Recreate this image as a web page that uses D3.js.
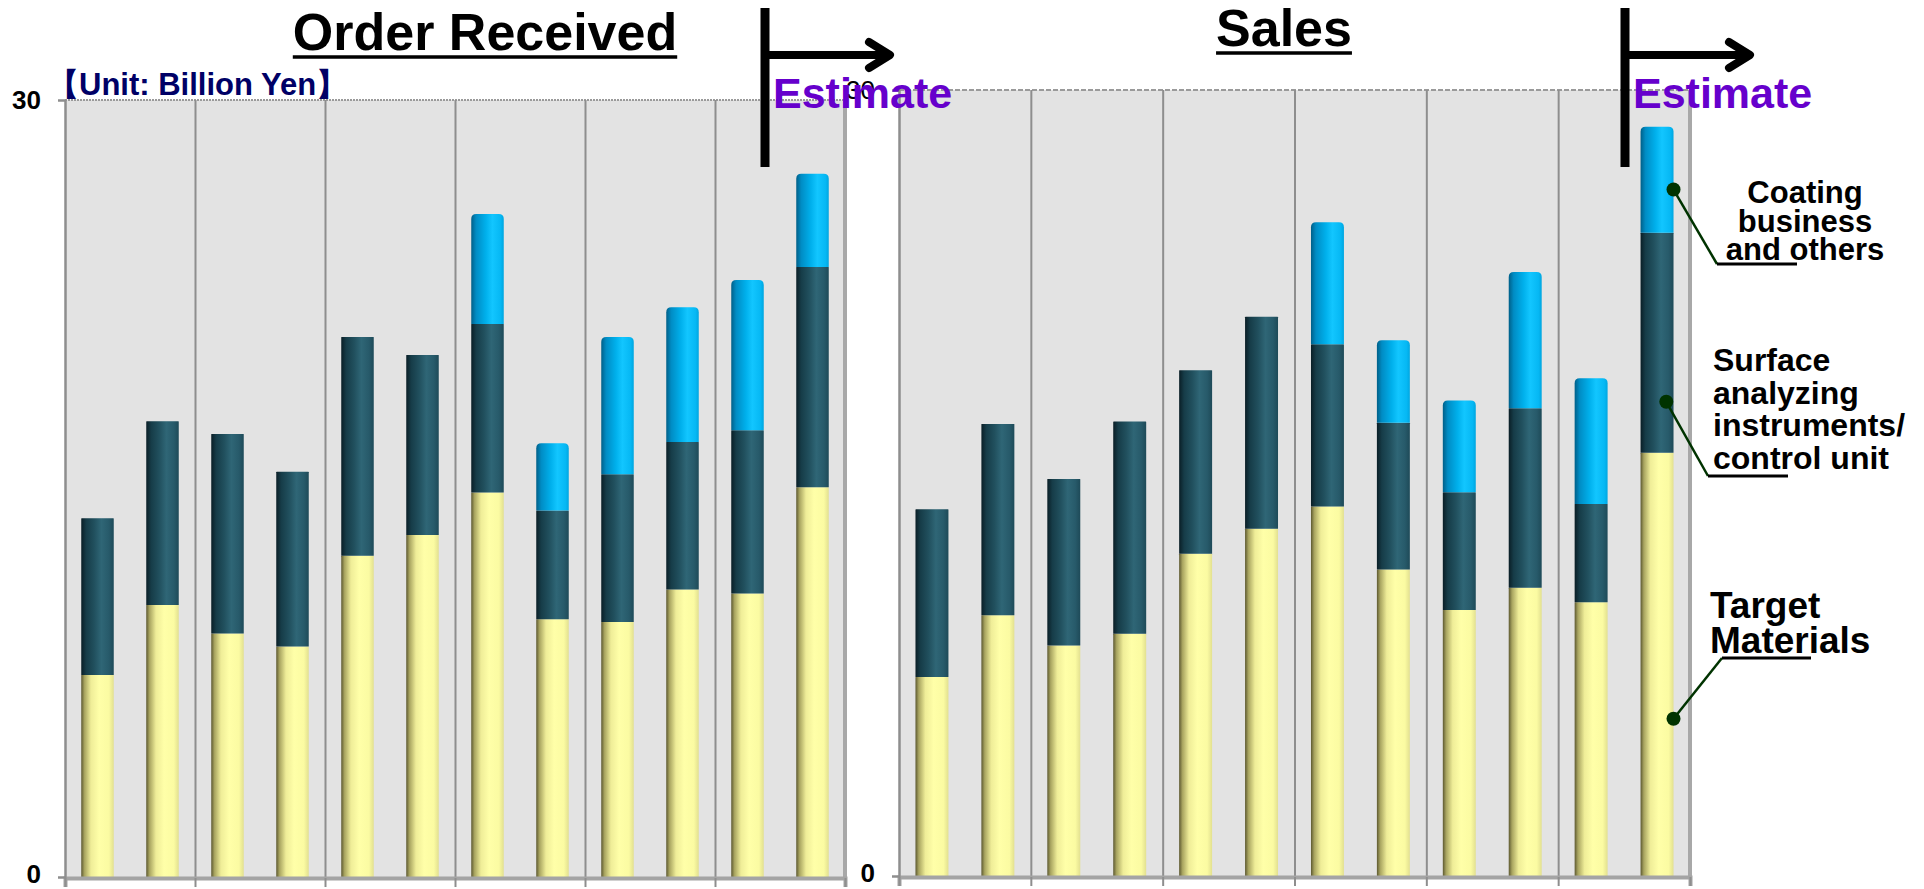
<!DOCTYPE html>
<html>
<head>
<meta charset="utf-8">
<script src="https://cdnjs.cloudflare.com/ajax/libs/d3/7.8.5/d3.min.js"></script>
<style>
  body { margin: 0; background: #fff; }
  svg { display: block; }
  text { font-family: "Liberation Sans", Arial, sans-serif; font-weight: bold; }
</style>
</head>
<body>
<svg id="chart" width="1924" height="889"></svg>
<script>
// Half-year periods (6 fiscal years x 2), not labelled on the chart
const categories = ["Y1-1H", "Y1-2H", "Y2-1H", "Y2-2H", "Y3-1H", "Y3-2H",
                    "Y4-1H", "Y4-2H", "Y5-1H", "Y5-2H", "Y6-1H", "Y6-2H"];
const seriesKeys = ["target", "surface", "coating"];

// Order Received (billion yen)
const orderTarget  = [7.8, 10.5, 9.4, 8.9, 12.4, 13.2, 14.85, 9.95, 9.85, 11.1, 10.95, 15.05];
const orderSurface = [6.05, 7.1, 7.7, 6.75, 8.45, 6.95, 6.5, 4.2, 5.7, 5.7, 6.3, 8.5];
const orderCoating = [0, 0, 0, 0, 0, 0, 4.25, 2.6, 5.3, 5.2, 5.8, 3.6];

// Sales (billion yen)
const salesTarget  = [7.6, 9.95, 8.8, 9.25, 12.3, 13.25, 14.1, 11.7, 10.15, 11.0, 10.45, 16.15];
const salesSurface = [6.4, 7.3, 6.35, 8.1, 7.0, 8.1, 6.2, 5.6, 4.5, 6.85, 3.75, 8.4];
const salesCoating = [0, 0, 0, 0, 0, 0, 4.65, 3.15, 3.5, 5.2, 4.8, 4.05];

const yTicks = [0, 30];

const svg = d3.select("#chart");
const defs = svg.append("defs");

// Cylinder-like shading for each series
const gradients = {
    target:  [[0, "#5c5830"], [0.1, "#a8a460"], [0.3, "#efed98"], [0.55, "#ffffa8"], [0.85, "#fbfba2"], [1, "#e2e090"]],
    surface: [[0, "#0a1e26"], [0.15, "#163c48"], [0.4, "#21505e"], [0.62, "#2f6676"], [0.85, "#275a6a"], [1, "#1e4a58"]],
    coating: [[0, "#005f88"], [0.15, "#008cc4"], [0.45, "#00b0ec"], [0.65, "#12c6ff"], [0.9, "#06b8f4"], [1, "#00a6e0"]]
};
Object.keys(gradients).forEach(function (k) {
    const g = defs.append("linearGradient").attr("id", "grad-" + k)
        .attr("x1", "0%").attr("x2", "100%").attr("y1", "0%").attr("y2", "0%");
    gradients[k].forEach(function (s) {
        g.append("stop").attr("offset", s[0]).attr("stop-color", s[1]);
    });
});

function roundTop(x, y, w, h, r) {
    return "M" + x + "," + (y + h) + "V" + (y + r) + "Q" + x + "," + y + " " + (x + r) + "," + y +
        "H" + (x + w - r) + "Q" + (x + w) + "," + y + " " + (x + w) + "," + (y + r) + "V" + (y + h) + "Z";
}

function drawPanel(cfg) {
    const rows = categories.map(function (c, i) {
        return { cat: c, target: cfg.target[i], surface: cfg.surface[i], coating: cfg.coating[i] };
    });
    const stacked = d3.stack().keys(seriesKeys)(rows);

    const xScale = d3.scaleBand().domain(categories)
        .range([cfg.left, cfg.right]).paddingInner(0.5).paddingOuter(0.25);
    const yScale = d3.scaleLinear().domain([0, 30]).range([cfg.bottom, cfg.top]);
    // group boundaries (one group = two half-years)
    const gScale = d3.scaleLinear().domain([0, 6]).range([cfg.left, cfg.right]);

    const panel = svg.append("g");

    // plot background
    panel.append("rect")
        .attr("x", cfg.left).attr("y", cfg.top)
        .attr("width", cfg.right - cfg.left).attr("height", cfg.bottom - cfg.top)
        .attr("fill", "#e3e3e3");

    // top gridline (dotted)
    panel.append("line")
        .attr("x1", cfg.left).attr("x2", cfg.right)
        .attr("y1", yScale(30)).attr("y2", yScale(30))
        .attr("stroke", "#9a9a9a").attr("stroke-width", 2)
        .attr("stroke-dasharray", cfg.dash);

    // vertical gridlines
    panel.append("g")
        .attr("transform", "translate(0," + cfg.bottom + ")")
        .call(d3.axisBottom(gScale).ticks(6).tickSize(-(cfg.bottom - cfg.top)).tickFormat(""))
        .call(g => g.select(".domain").remove())
        .selectAll("line").attr("stroke", "#8e8e8e").attr("stroke-width", 2);

    // right border
    panel.append("line")
        .attr("x1", cfg.right).attr("x2", cfg.right)
        .attr("y1", cfg.top).attr("y2", cfg.bottom)
        .attr("stroke", "#a8a8a8").attr("stroke-width", 4);

    // bars
    const layers = panel.selectAll(".layer")
        .data(stacked)
        .enter().append("g")
        .attr("class", "layer")
        .attr("fill", d => "url(#grad-" + d.key + ")");

    layers.selectAll("path")
        .data(d => d.map(function (p, i) { return { p: p, key: d.key, i: i }; }).filter(o => o.p[1] - o.p[0] > 0))
        .enter().append("path")
        .attr("d", function (o) {
            const x = xScale(o.p.data.cat);
            const w = xScale.bandwidth();
            const y = yScale(o.p[1]);
            const h = yScale(o.p[0]) - yScale(o.p[1]);
            const r = o.key === "coating" ? 5 : 0.5;
            return roundTop(x, y, w, h, r);
        });

    // bottom axis
    panel.append("g")
        .attr("transform", "translate(0," + (cfg.bottom + 1) + ")")
        .call(d3.axisBottom(gScale).ticks(6).tickSize(9).tickSizeOuter(9).tickFormat(""))
        .call(g => g.select(".domain").attr("stroke", "#a4a4a4").attr("stroke-width", 4))
        .selectAll(".tick line").attr("stroke", "#8e8e8e").attr("stroke-width", 2);

    // left axis
    const yAxis = panel.append("g")
        .attr("transform", "translate(" + cfg.left + ",0)")
        .call(d3.axisLeft(yScale).tickValues(yTicks).tickSize(7).tickPadding(17).tickFormat(d3.format("d")));
    yAxis.select(".domain").attr("stroke", "#8e8e8e").attr("stroke-width", 2);
    yAxis.selectAll(".tick line").attr("stroke", "#8e8e8e").attr("stroke-width", 2);
    yAxis.selectAll(".tick text")
        .attr("fill", "#000")
        .attr("dy", d => d === 0 ? "0.2em" : "0.32em")
        .style("font-size", "26px")
        .style("font-family", "'Liberation Sans', Arial, sans-serif")
        .style("font-weight", d => (d === 30 && cfg.thinTop) ? "normal" : "bold");

    // title with underline
    const t = svg.append("text")
        .attr("x", cfg.titleX).attr("y", cfg.titleY)
        .attr("text-anchor", "middle")
        .style("font-size", "52px")
        .text(cfg.title);
    const tw = t.node().getComputedTextLength();
    svg.append("line")
        .attr("x1", cfg.titleX - tw / 2).attr("x2", cfg.titleX + tw / 2)
        .attr("y1", cfg.titleY + 7).attr("y2", cfg.titleY + 7)
        .attr("stroke", "#000").attr("stroke-width", 3.5);

    return { x: xScale, y: yScale };
}

const orderScales = drawPanel({
    left: 65, right: 845, top: 100, bottom: 877,
    target: orderTarget, surface: orderSurface, coating: orderCoating,
    dash: "2,1", thinTop: false,
    title: "Order Received", titleX: 485, titleY: 50
});

const salesScales = drawPanel({
    left: 899, right: 1690, top: 90, bottom: 876,
    target: salesTarget, surface: salesSurface, coating: salesCoating,
    dash: "5,2", thinTop: true,
    title: "Sales", titleX: 1284, titleY: 46
});

// unit label
svg.append("text")
    .attr("x", 48).attr("y", 95)
    .attr("fill", "#000066")
    .style("font-size", "31px")
    .text("【Unit: Billion Yen】");

// Estimate markers
function estimateMarker(x) {
    svg.append("line")
        .attr("x1", x).attr("x2", x).attr("y1", 8).attr("y2", 167)
        .attr("stroke", "#000").attr("stroke-width", 9);
    svg.append("line")
        .attr("x1", x).attr("x2", x + 124).attr("y1", 55).attr("y2", 55)
        .attr("stroke", "#000").attr("stroke-width", 8);
    svg.append("polyline")
        .attr("points", (x + 104) + ",42 " + (x + 125) + ",55 " + (x + 104) + ",68")
        .attr("fill", "none").attr("stroke", "#000").attr("stroke-width", 8)
        .attr("stroke-linecap", "round").attr("stroke-linejoin", "round");
    svg.append("text")
        .attr("x", x + 8).attr("y", 108)
        .attr("fill", "#6600cc")
        .style("font-size", "43px")
        .text("Estimate");
}
estimateMarker(765);
estimateMarker(1625);

// Series callouts pointing at the last Sales bar
const lastCat = categories[categories.length - 1];
const bx = salesScales.x(lastCat), bw = salesScales.x.bandwidth();
const callouts = [
    { value: 26.2, dx: 1.0, lx: 1717, ly: 264, ux: 1797,
      lines: ["Coating", "business", "and others"], tx: 1805, anchor: "middle", ty: 203, lh: 28.5, size: 31 },
    { value: 18.1, dx: 0.78, lx: 1708, ly: 476, ux: 1788,
      lines: ["Surface", "analyzing", "instruments/", "control unit"], tx: 1713, anchor: "start", ty: 371, lh: 32.5, size: 32 },
    { value: 6.0, dx: 1.0, lx: 1722, ly: 658, ux: 1811,
      lines: ["Target", "Materials"], tx: 1710, anchor: "start", ty: 618, lh: 35, size: 37 }
];
callouts.forEach(function (c) {
    const px = bx + bw * c.dx, py = salesScales.y(c.value);
    svg.append("line")
        .attr("x1", px).attr("y1", py).attr("x2", c.lx).attr("y2", c.ly)
        .attr("stroke", "#003300").attr("stroke-width", 2.5);
    svg.append("line")
        .attr("x1", c.lx).attr("y1", c.ly).attr("x2", c.ux).attr("y2", c.ly)
        .attr("stroke", "#000").attr("stroke-width", 3);
    svg.append("circle")
        .attr("cx", px).attr("cy", py).attr("r", 7)
        .attr("fill", "#003300");
    const txt = svg.append("text")
        .attr("text-anchor", c.anchor)
        .style("font-size", c.size + "px");
    c.lines.forEach(function (l, i) {
        txt.append("tspan").attr("x", c.tx).attr("y", c.ty + i * c.lh).text(l);
    });
});
</script>
</body>
</html>
